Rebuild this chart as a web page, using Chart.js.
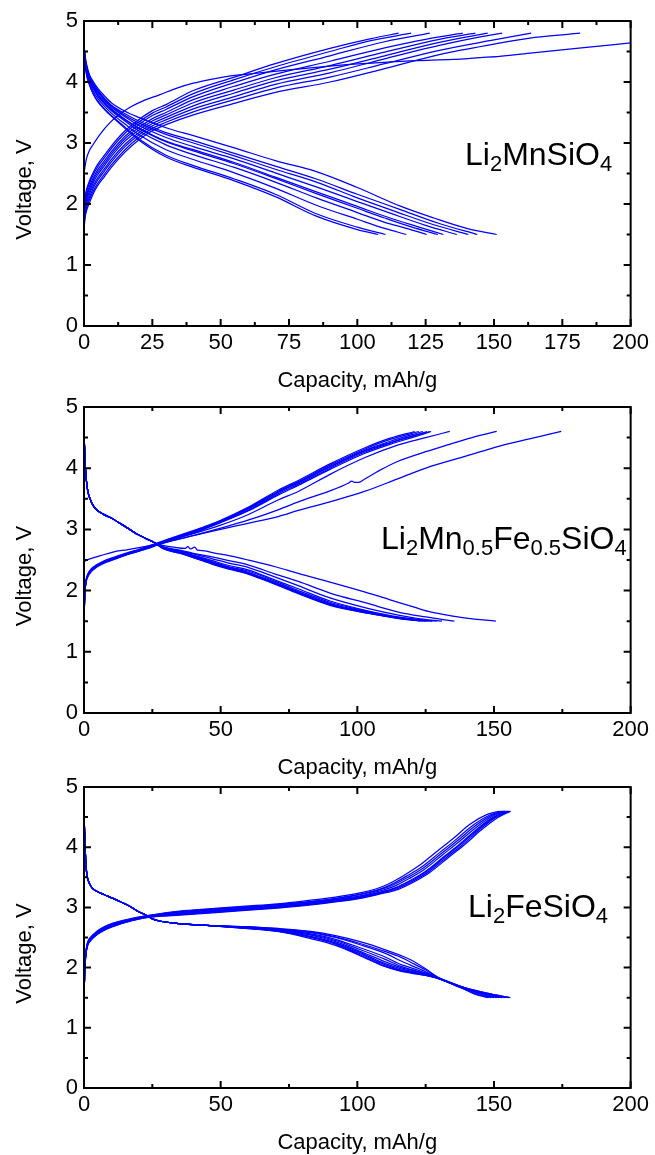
<!DOCTYPE html>
<html>
<head>
<meta charset="utf-8">
<script src="https://cdn.jsdelivr.net/npm/chart.js@4.4.1/dist/chart.umd.min.js"></script>
<style>
html,body{margin:0;padding:0;background:#fff;}
body{position:relative;width:655px;height:1155px;overflow:hidden;}
canvas{position:absolute;left:0;}
</style>
</head>
<body>
<canvas id="c1" width="655" height="400" style="top:0px"></canvas>
<canvas id="c2" width="655" height="400" style="top:385px"></canvas>
<canvas id="c3" width="655" height="385" style="top:770px"></canvas>
<script>
// ---------- tick labels / titles ----------
const xTicksMn = [0, 25, 50, 75, 100, 125, 150, 175, 200];
const xTicksWide = [0, 50, 100, 150, 200];
const yTicksV = [0, 1, 2, 3, 4, 5];
const xTitle = 'Capacity, mAh/g';
const yTitle = 'Voltage, V';
const labelMn = [['Li', 0], ['2', 1], ['MnSiO', 0], ['4', 1]];
const labelMnFe = [['Li', 0], ['2', 1], ['Mn', 0], ['0.5', 1], ['Fe', 0], ['0.5', 1], ['SiO', 0], ['4', 1]];
const labelFe = [['Li', 0], ['2', 1], ['FeSiO', 0], ['4', 1]];

// ---------- Panel 1: Li2MnSiO4 charge curves ----------
const mnCharge1 = [[0,2.5],[0.5,2.65],[1,2.76],[2,2.88],[3.4,2.98],[6,3.15],[9.4,3.33],[13,3.47],[17,3.59],[22,3.7],[27.6,3.79],[34,3.9],[40,3.98],[46,4.04],[52,4.09],[60,4.13],[75,4.2],[92,4.27],[105,4.31],[112,4.33],[122,4.35],[135,4.37],[145,4.4],[152,4.42],[165,4.48],[182,4.56],[200,4.64]];
const mnCharge2 = [[0,1.6],[0.5,1.8],[1,1.9],[2,2.02],[3.5,2.18],[5,2.3],[7.5,2.45],[10,2.6],[15,2.85],[20,3.05],[25,3.2],[30,3.3],[40,3.46],[55,3.65],[70,3.83],[90,4.0],[110,4.22],[130,4.45],[150,4.62],[165,4.73],[181.5,4.8]];
const mnCharge3 = [[0,1.65],[0.5,1.84],[1,1.94],[2,2.07],[3.5,2.22],[5,2.34],[7.5,2.49],[10,2.64],[15,2.89],[20,3.09],[25,3.24],[30,3.34],[40,3.51],[55,3.71],[70,3.9],[90,4.08],[110,4.3],[130,4.52],[150,4.69],[163.6,4.8]];
const mnCharge4 = [[0,1.7],[0.5,1.89],[1,1.99],[2,2.11],[3.5,2.27],[5,2.39],[7.5,2.54],[10,2.69],[15,2.94],[20,3.13],[25,3.28],[30,3.38],[40,3.56],[55,3.76],[70,3.96],[90,4.15],[110,4.38],[130,4.6],[145,4.74],[153,4.8]];
const mnCharge5 = [[0,1.75],[0.5,1.93],[1,2.03],[2,2.16],[3.5,2.31],[5,2.43],[7.5,2.58],[10,2.73],[15,2.98],[20,3.17],[25,3.32],[30,3.42],[40,3.61],[55,3.82],[70,4.02],[90,4.21],[110,4.43],[130,4.65],[147.7,4.8]];
const mnCharge6 = [[0,1.8],[0.5,1.98],[1,2.08],[2,2.2],[3.5,2.36],[5,2.48],[7.5,2.63],[10,2.78],[15,3.03],[20,3.21],[25,3.36],[30,3.46],[40,3.66],[55,3.87],[70,4.07],[90,4.27],[110,4.49],[130,4.7],[143.2,4.8]];
const mnCharge7 = [[0,1.85],[0.5,2.02],[1,2.12],[2,2.25],[3.5,2.4],[5,2.52],[7.5,2.67],[10,2.82],[15,3.07],[20,3.25],[25,3.4],[30,3.5],[40,3.71],[55,3.93],[70,4.13],[90,4.34],[110,4.56],[125,4.7],[138.6,4.8]];
const mnCharge8 = [[0,1.9],[0.5,2.06],[1,2.16],[2,2.29],[3.5,2.44],[5,2.56],[7.5,2.71],[10,2.86],[15,3.11],[20,3.3],[25,3.45],[30,3.55],[40,3.76],[55,3.99],[70,4.2],[90,4.43],[110,4.66],[126.5,4.8]];
const mnCharge9 = [[0,1.95],[0.5,2.11],[1,2.21],[2,2.34],[3.5,2.49],[5,2.61],[7.5,2.76],[10,2.91],[15,3.16],[20,3.34],[25,3.49],[30,3.59],[40,3.81],[55,4.04],[70,4.25],[90,4.5],[105,4.68],[119.7,4.8]];
const mnCharge10 = [[0,2.0],[0.5,2.15],[1,2.25],[2,2.38],[3.5,2.53],[5,2.65],[7.5,2.8],[10,2.95],[15,3.2],[20,3.38],[25,3.53],[30,3.63],[40,3.86],[55,4.08],[70,4.3],[90,4.55],[105,4.71],[115.1,4.8]];

// ---------- Panel 1: Li2MnSiO4 discharge curves ----------
const mnDis1 = [[0,4.6],[0.5,4.4],[1,4.28],[2,4.12],[3.5,4.0],[5,3.9],[7.5,3.77],[10,3.66],[15,3.52],[20,3.42],[30,3.25],[40,3.12],[55,2.92],[70,2.71],[85,2.53],[100,2.27],[116,1.96],[128,1.77],[140,1.6],[151,1.5]];
const mnDis2 = [[0,4.58],[0.5,4.38],[1,4.25],[2,4.09],[3.5,3.97],[5,3.87],[7.5,3.73],[10,3.62],[15,3.48],[20,3.36],[30,3.17],[40,3.04],[55,2.83],[70,2.62],[85,2.41],[100,2.16],[115,1.92],[130,1.68],[143.9,1.5]];
const mnDis3 = [[0,4.58],[0.5,4.36],[1,4.24],[2,4.08],[3.5,3.95],[5,3.85],[7.5,3.72],[10,3.61],[15,3.45],[20,3.33],[30,3.14],[40,3.0],[55,2.79],[70,2.57],[85,2.36],[100,2.1],[115,1.86],[128,1.66],[140.6,1.5]];
const mnDis4 = [[0,4.57],[0.5,4.35],[1,4.22],[2,4.06],[3.5,3.93],[5,3.83],[7.5,3.7],[10,3.59],[15,3.43],[20,3.29],[30,3.09],[40,2.94],[55,2.74],[70,2.51],[85,2.28],[100,2.04],[112,1.85],[125,1.65],[136.4,1.5]];
const mnDis5 = [[0,4.56],[0.5,4.33],[1,4.2],[2,4.04],[3.5,3.91],[5,3.8],[7.5,3.67],[10,3.56],[15,3.39],[20,3.25],[30,3.03],[40,2.89],[55,2.68],[70,2.44],[85,2.2],[100,1.96],[112,1.77],[122,1.63],[131.5,1.5]];
const mnDis6 = [[0,4.55],[0.5,4.33],[1,4.19],[2,4.04],[3.5,3.9],[5,3.79],[7.5,3.66],[10,3.55],[15,3.38],[20,3.24],[30,3.02],[40,2.87],[55,2.66],[70,2.42],[85,2.17],[100,1.93],[110,1.77],[120,1.62],[129.5,1.5]];
const mnDis7 = [[0,4.54],[0.5,4.31],[1,4.17],[2,4.02],[3.5,3.88],[5,3.77],[7.5,3.64],[10,3.53],[15,3.36],[20,3.2],[30,2.97],[40,2.81],[55,2.6],[70,2.36],[85,2.1],[100,1.86],[110,1.7],[118,1.6],[125.4,1.5]];
const mnDis8 = [[0,4.52],[0.5,4.29],[1,4.14],[2,3.99],[3.5,3.84],[5,3.73],[7.5,3.6],[10,3.49],[15,3.31],[20,3.14],[30,2.89],[40,2.73],[55,2.51],[70,2.26],[85,1.98],[100,1.75],[110,1.6],[117.9,1.5]];
const mnDis9 = [[0,4.51],[0.5,4.26],[1,4.11],[2,3.96],[3.5,3.8],[5,3.69],[7.5,3.56],[10,3.45],[15,3.26],[20,3.07],[30,2.8],[40,2.63],[55,2.41],[70,2.16],[85,1.84],[100,1.62],[110.3,1.5]];
const mnDis10 = [[0,4.5],[0.5,4.25],[1,4.1],[2,3.95],[3.5,3.79],[5,3.68],[7.5,3.55],[10,3.44],[15,3.24],[20,3.05],[30,2.77],[40,2.6],[55,2.38],[70,2.12],[85,1.8],[100,1.58],[107.6,1.5]];

// ---------- Panel 2: Li2Mn0.5Fe0.5SiO4 charge curves ----------
const mfCharge1 = [[0,2.47],[1,2.5],[3,2.53],[6,2.57],[10.6,2.63],[16,2.67],[22,2.72],[28.8,2.78],[40,2.9],[50,3.0],[60,3.1],[71,3.21],[78.4,3.31],[90,3.45],[102.6,3.62],[115,3.83],[126.8,4.03],[140,4.2],[151,4.35],[163,4.48],[174.6,4.6]];
const mfCharge2 = [[0,1.6],[0.3,1.95],[0.7,2.12],[1.5,2.23],[2.5,2.3],[4.6,2.38],[7,2.44],[10.6,2.5],[16,2.59],[22.7,2.68],[28.8,2.77],[40,2.9],[50,3.02],[60,3.15],[71,3.32],[78.4,3.45],[90,3.63],[96.5,3.75],[98,3.79],[99,3.77],[100.5,3.77],[102.6,3.82],[108,3.96],[114.7,4.11],[125,4.27],[132.9,4.38],[142,4.5],[151,4.6]];
const mfCharge3 = [[0,1.55],[0.3,1.95],[0.7,2.14],[1.5,2.25],[2.5,2.32],[4.6,2.4],[7,2.46],[10.6,2.52],[16,2.6],[22.7,2.69],[28.8,2.79],[40,2.93],[50,3.07],[60,3.24],[71,3.48],[78.4,3.62],[90,3.9],[102.6,4.17],[115,4.38],[125,4.5],[133.8,4.6]];
const mfCharge4 = [[0,1.5],[0.3,1.96],[0.7,2.16],[1.5,2.28],[2.5,2.35],[4.6,2.42],[7,2.48],[10.6,2.54],[16,2.62],[22.7,2.71],[28.8,2.81],[40,2.98],[50,3.15],[60,3.36],[71,3.64],[78.4,3.8],[90,4.07],[102.6,4.33],[112,4.49],[121,4.6]];
const mfCharge5 = [[0,1.5],[0.3,1.95],[0.7,2.15],[1.5,2.27],[2.5,2.34],[4.6,2.41],[7,2.47],[10.6,2.53],[16,2.61],[22.7,2.7],[28.8,2.8],[40,2.97],[50,3.14],[60,3.35],[71,3.62],[78.4,3.78],[90,4.05],[102.6,4.31],[112,4.47],[122.5,4.6]];
const mfCharge6 = [[0,1.5],[0.3,1.95],[0.7,2.15],[1.5,2.27],[2.5,2.34],[4.6,2.41],[7,2.47],[10.6,2.53],[16,2.61],[22.7,2.7],[28.8,2.8],[40,2.96],[50,3.13],[60,3.34],[71,3.61],[78.4,3.77],[90,4.03],[102.6,4.29],[112,4.44],[124,4.6]];
const mfCharge7 = [[0,1.5],[0.3,1.94],[0.7,2.14],[1.5,2.26],[2.5,2.33],[4.6,2.4],[7,2.46],[10.6,2.52],[16,2.6],[22.7,2.69],[28.8,2.79],[40,2.96],[50,3.13],[60,3.33],[71,3.6],[78.4,3.76],[90,4.02],[102.6,4.28],[112,4.42],[125.5,4.6]];
const mfCharge8 = [[0,1.5],[0.3,1.94],[0.7,2.14],[1.5,2.26],[2.5,2.33],[4.6,2.4],[7,2.46],[10.6,2.52],[16,2.6],[22.7,2.69],[28.8,2.79],[40,2.95],[50,3.12],[60,3.31],[71,3.58],[78.4,3.74],[90,4.0],[102.6,4.26],[112,4.41],[126.5,4.6]];
const mfCharge9 = [[0,1.5],[0.3,1.93],[0.7,2.13],[1.5,2.25],[2.5,2.32],[4.6,2.39],[7,2.45],[10.6,2.51],[16,2.59],[22.7,2.68],[28.8,2.78],[40,2.94],[50,3.11],[60,3.3],[71,3.56],[78.4,3.72],[90,3.98],[102.6,4.24],[112,4.39],[120,4.5],[127,4.6]];

// ---------- Panel 2: discharge curves ----------
const mfDisStart = [[0,4.55],[0.3,4.25],[0.6,3.95],[1,3.75],[1.5,3.6],[2.2,3.5],[3.2,3.4],[4.6,3.32],[7,3.25],[10.6,3.17],[13.5,3.09],[16.7,3.0],[19.5,2.92],[22.7,2.85],[25.5,2.79]];
const mfDis1 = [[28.8,2.74],[33,2.71],[37,2.69],[38,2.72],[39,2.68],[40.5,2.71],[41.5,2.66],[44,2.65],[47,2.62],[53,2.57],[60,2.5],[70,2.39],[78.4,2.28],[90,2.14],[102.6,1.98],[112,1.85],[120.8,1.73],[126,1.66],[132.9,1.6],[140,1.55],[150.7,1.5]];
const mfDis2 = [[28.8,2.72],[35,2.66],[40,2.61],[47,2.55],[53,2.49],[60,2.42],[70,2.27],[78.4,2.15],[90,1.96],[103.8,1.79],[115,1.65],[125,1.57],[135.5,1.5]];
const mfDis3 = [[28.8,2.71],[35,2.65],[40,2.6],[47,2.52],[53,2.45],[60,2.38],[70,2.22],[78.4,2.08],[90,1.88],[103.8,1.71],[115,1.6],[123,1.54],[131,1.5]];
const mfDis4 = [[28.8,2.71],[35,2.64],[40,2.58],[47,2.49],[53,2.41],[60,2.34],[70,2.17],[78.4,2.03],[90,1.83],[103.8,1.67],[115,1.57],[129,1.5]];
const mfDis5 = [[28.8,2.7],[35,2.63],[40,2.57],[47,2.47],[53,2.39],[60,2.32],[70,2.15],[78.4,2.0],[90,1.81],[103.8,1.66],[115,1.56],[127.5,1.5]];
const mfDis6 = [[28.8,2.7],[35,2.62],[40,2.56],[47,2.46],[53,2.38],[60,2.3],[70,2.13],[78.4,1.98],[90,1.79],[103.8,1.65],[115,1.56],[126,1.5]];
const mfDis7 = [[28.8,2.7],[35,2.62],[40,2.55],[47,2.45],[53,2.37],[60,2.29],[70,2.12],[78.4,1.97],[90,1.78],[103.8,1.64],[115,1.55],[125,1.5]];
const mfDis8 = [[28.8,2.69],[35,2.61],[40,2.54],[47,2.44],[53,2.36],[60,2.28],[70,2.11],[78.4,1.96],[90,1.77],[103.8,1.63],[115,1.55],[124,1.5]];
const mfDis9 = [[28.8,2.69],[35,2.61],[40,2.54],[47,2.43],[53,2.35],[60,2.27],[70,2.1],[78.4,1.95],[90,1.76],[103.8,1.63],[114,1.55],[123,1.5]];

// ---------- Panel 3: Li2FeSiO4 charge curves ----------
const feCharge1 = [[0,1.5],[0.3,1.96],[0.7,2.21],[1.3,2.36],[2.5,2.45],[4.6,2.54],[7,2.61],[10.6,2.68],[16.7,2.77],[22.7,2.83],[35,2.87],[47,2.91],[59,2.95],[71,2.99],[83,3.04],[92,3.09],[101,3.15],[108,3.22],[115,3.3],[121,3.43],[126.5,3.58],[133.1,3.82],[139.2,4.04],[145.2,4.28],[151.3,4.49],[156.1,4.6]];
const feCharge2 = [[0,1.5],[0.3,1.97],[0.7,2.22],[1.3,2.37],[2.5,2.46],[4.6,2.55],[7,2.62],[10.6,2.69],[16.7,2.77],[22.7,2.83],[35,2.88],[47,2.92],[59,2.96],[71,3.0],[83,3.05],[92,3.1],[101,3.16],[108,3.23],[114.5,3.31],[120.5,3.44],[126,3.59],[132.6,3.83],[138.7,4.05],[144.7,4.29],[150.8,4.5],[155.6,4.6]];
const feCharge3 = [[0,1.5],[0.3,1.98],[0.7,2.22],[1.3,2.37],[2.5,2.47],[4.6,2.55],[7,2.62],[10.6,2.7],[16.7,2.78],[22.7,2.84],[35,2.89],[47,2.93],[59,2.97],[71,3.01],[83,3.06],[92,3.11],[101,3.17],[108,3.24],[114,3.32],[120,3.45],[125.5,3.6],[132.1,3.84],[138.2,4.06],[144.2,4.3],[150.3,4.5],[155.1,4.6]];
const feCharge4 = [[0,1.5],[0.3,1.98],[0.7,2.23],[1.3,2.38],[2.5,2.47],[4.6,2.56],[7,2.63],[10.6,2.7],[16.7,2.78],[22.7,2.84],[35,2.9],[47,2.94],[59,2.98],[71,3.02],[83,3.07],[92,3.12],[101,3.18],[108,3.25],[113.5,3.32],[119.5,3.45],[125,3.6],[131.6,3.84],[137.7,4.06],[143.7,4.3],[149.8,4.5],[154.6,4.6]];
const feCharge5 = [[0,1.5],[0.3,1.99],[0.7,2.24],[1.3,2.39],[2.5,2.48],[4.6,2.57],[7,2.64],[10.6,2.71],[16.7,2.79],[22.7,2.85],[35,2.91],[47,2.95],[59,2.99],[71,3.03],[83,3.08],[92,3.13],[101,3.19],[108,3.27],[113,3.34],[119,3.48],[124.5,3.63],[131.1,3.87],[137.2,4.09],[143.2,4.32],[149.3,4.51],[154.1,4.6]];
const feCharge6 = [[0,1.5],[0.3,2.0],[0.7,2.25],[1.3,2.4],[2.5,2.49],[4.6,2.58],[7,2.65],[10.6,2.72],[16.7,2.79],[22.7,2.85],[35,2.92],[47,2.96],[59,3.0],[71,3.04],[83,3.09],[92,3.14],[101,3.21],[108,3.29],[112.5,3.36],[118.5,3.5],[124,3.65],[130.6,3.89],[136.7,4.11],[142.7,4.34],[148.8,4.52],[153.6,4.6]];
const feCharge7 = [[0,1.5],[0.3,2.0],[0.7,2.26],[1.3,2.41],[2.5,2.5],[4.6,2.59],[7,2.66],[10.6,2.73],[16.7,2.8],[22.7,2.86],[35,2.93],[47,2.97],[59,3.01],[71,3.05],[83,3.1],[92,3.15],[101,3.22],[108,3.3],[112,3.37],[118,3.52],[123.5,3.67],[130.1,3.91],[136.2,4.13],[142.2,4.36],[148.3,4.53],[153.1,4.6]];
const feCharge8 = [[0,1.5],[0.3,2.01],[0.7,2.27],[1.3,2.42],[2.5,2.51],[4.6,2.6],[7,2.67],[10.6,2.74],[16.7,2.81],[22.7,2.86],[35,2.94],[47,2.98],[59,3.02],[71,3.06],[83,3.12],[92,3.17],[101,3.24],[107,3.31],[111,3.38],[117,3.53],[122.5,3.69],[129.1,3.93],[135.2,4.15],[141.2,4.38],[147.3,4.54],[152.1,4.6]];

// ---------- Panel 3: discharge curves ----------
const feDisStart = [[0,4.55],[0.3,4.15],[0.6,3.8],[1,3.56],[1.6,3.44],[2.4,3.36],[3.5,3.3],[5,3.26],[7.5,3.21],[10.6,3.15],[13.5,3.09],[16.7,3.02],[19.5,2.94],[22.7,2.87],[25,2.81],[28,2.77],[35,2.73],[45,2.7]];
const feDis1 = [[59,2.68],[71,2.65],[83,2.6],[92,2.53],[101,2.43],[110,2.3],[116,2.2],[119.5,2.13],[125,1.98],[129.5,1.84],[133,1.77],[137.7,1.69],[145,1.6],[150,1.55],[156,1.5]];
const feDis2 = [[59,2.68],[71,2.64],[83,2.59],[92,2.51],[101,2.4],[110,2.27],[116,2.17],[119.5,2.09],[125,1.96],[129.5,1.84],[133,1.77],[137.7,1.69],[145,1.6],[150,1.55],[155.5,1.5]];
const feDis3 = [[59,2.67],[71,2.63],[83,2.58],[92,2.5],[101,2.38],[110,2.24],[116,2.11],[119.5,2.04],[125,1.93],[129.5,1.83],[137.7,1.69],[145,1.59],[155,1.5]];
const feDis4 = [[59,2.67],[71,2.63],[83,2.56],[92,2.47],[101,2.33],[110,2.18],[116,2.05],[119.5,2.0],[125,1.91],[129.5,1.83],[137.7,1.69],[145,1.59],[154,1.5]];
const feDis5 = [[59,2.67],[71,2.62],[83,2.55],[92,2.45],[101,2.3],[110,2.14],[116,2.02],[119.5,1.97],[125,1.9],[129.5,1.83],[137.7,1.68],[145,1.58],[153,1.5]];
const feDis6 = [[59,2.66],[71,2.62],[83,2.54],[92,2.43],[101,2.27],[110,2.1],[116,2.0],[119.5,1.96],[125,1.89],[129.5,1.82],[137.7,1.68],[145,1.58],[152,1.5]];
const feDis7 = [[59,2.66],[71,2.61],[83,2.52],[92,2.41],[101,2.25],[110,2.07],[116,1.98],[119.5,1.94],[125,1.88],[129.5,1.82],[137.7,1.68],[145,1.57],[151,1.5]];
const feDis8 = [[59,2.66],[71,2.61],[83,2.51],[92,2.4],[101,2.23],[110,2.05],[116,1.96],[119.5,1.93],[125,1.88],[129.5,1.82],[137.7,1.67],[144,1.57],[150,1.5]];
const feDis9 = [[59,2.65],[71,2.6],[83,2.5],[92,2.39],[101,2.21],[110,2.03],[116,1.95],[119.5,1.92],[125,1.87],[129.5,1.82],[137.7,1.67],[143,1.57],[149,1.5]];
const feDis10 = [[59,2.65],[71,2.6],[83,2.48],[92,2.37],[101,2.2],[110,2.02],[115,1.95],[119.5,1.91],[125,1.87],[129.5,1.82],[137.7,1.67],[143,1.56],[148,1.5]];

// ---------- rendering ----------
const FONT = '"Liberation Sans", Arial, Helvetica, sans-serif';
Chart.defaults.font.family = FONT;
Chart.defaults.color = '#000';

const framePlugin = {
  id: 'frame',
  afterDatasetsDraw(chart, args, opts) {
    const ctx = chart.ctx, a = chart.chartArea;
    const sx = chart.scales.x, sy = chart.scales.y;
    ctx.save();
    ctx.strokeStyle = '#000';
    ctx.lineWidth = 2;
    ctx.beginPath();
    const xv = sx.ticks.map(t => t.value);
    const yv = sy.ticks.map(t => t.value);
    xv.forEach((v, i) => {
      const p = sx.getPixelForValue(v);
      ctx.moveTo(p, a.bottom); ctx.lineTo(p, a.bottom - 7);
      ctx.moveTo(p, a.top); ctx.lineTo(p, a.top + 7);
      if (i < xv.length - 1) {
        const m = sx.getPixelForValue((v + xv[i + 1]) / 2);
        ctx.moveTo(m, a.bottom); ctx.lineTo(m, a.bottom - 4);
        ctx.moveTo(m, a.top); ctx.lineTo(m, a.top + 4);
      }
    });
    yv.forEach((v, i) => {
      const p = sy.getPixelForValue(v);
      ctx.moveTo(a.left, p); ctx.lineTo(a.left + 7, p);
      ctx.moveTo(a.right, p); ctx.lineTo(a.right - 7, p);
      if (i < yv.length - 1) {
        const m = sy.getPixelForValue((v + yv[i + 1]) / 2);
        ctx.moveTo(a.left, m); ctx.lineTo(a.left + 4, m);
        ctx.moveTo(a.right, m); ctx.lineTo(a.right - 4, m);
      }
    });
    ctx.stroke();
    ctx.strokeRect(a.left, a.top, a.right - a.left, a.bottom - a.top);

    ctx.fillStyle = '#000';
    ctx.font = '22px ' + FONT;
    ctx.textAlign = 'center';
    ctx.textBaseline = 'middle';
    ctx.fillText(opts.xTitle, (a.left + a.right) / 2, a.bottom + 55);
    ctx.save();
    ctx.translate(25, (a.top + a.bottom) / 2 + 16);
    ctx.rotate(-Math.PI / 2);
    ctx.fillText(opts.yTitle, 0, 0);
    ctx.restore();

    ctx.textAlign = 'left';
    ctx.textBaseline = 'alphabetic';
    let cx = opts.labelX;
    opts.label.forEach(([txt, sub]) => {
      ctx.font = (sub ? '22px ' : '32px ') + FONT;
      ctx.fillText(txt, cx, sub ? opts.labelY + 6 : opts.labelY);
      cx += ctx.measureText(txt).width;
    });
    ctx.restore();
  }
};

function makeChart(id, curves, xTicks, lay, label) {
  const datasets = curves.map(c => ({
    data: c,
    showLine: true,
    borderColor: '#0000ff',
    borderWidth: 1.25,
    pointRadius: 0,
    pointHoverRadius: 0,
    fill: false,
    cubicInterpolationMode: 'monotone'
  }));
  return new Chart(document.getElementById(id), {
    type: 'scatter',
    data: { datasets },
    options: {
      responsive: false,
      animation: false,
      devicePixelRatio: 1,
      events: [],
      layout: { padding: { top: lay.top, right: 20, left: 0, bottom: 0 } },
      plugins: {
        legend: { display: false },
        tooltip: { enabled: false },
        frame: { xTitle, yTitle, label, labelX: lay.labelX, labelY: lay.labelY }
      },
      scales: {
        x: {
          type: 'linear', min: 0, max: 200,
          afterBuildTicks: s => { s.ticks = xTicks.map(v => ({ value: v })); },
          afterFit: s => { s.height = lay.xH; },
          grid: { display: false, drawTicks: false },
          border: { display: false },
          ticks: { font: { size: 22, lineHeight: 1 }, color: '#000', padding: 6, maxRotation: 0, autoSkip: false }
        },
        y: {
          type: 'linear', min: 0, max: 5,
          afterBuildTicks: s => { s.ticks = yTicksV.map(v => ({ value: v })); },
          afterFit: s => { s.width = 84; },
          grid: { display: false, drawTicks: false },
          border: { display: false },
          ticks: { font: { size: 22, lineHeight: 1 }, color: '#000', padding: 6, autoSkip: false }
        }
      }
    },
    plugins: [framePlugin]
  });
}

makeChart('c1',
  [mnCharge1, mnCharge2, mnCharge3, mnCharge4, mnCharge5, mnCharge6, mnCharge7, mnCharge8, mnCharge9, mnCharge10,
   mnDis1, mnDis2, mnDis3, mnDis4, mnDis5, mnDis6, mnDis7, mnDis8, mnDis9, mnDis10],
  xTicksMn, { top: 21, xH: 74, labelX: 465, labelY: 165 }, labelMn);

makeChart('c2',
  [mfCharge1, mfCharge2, mfCharge3, mfCharge4, mfCharge5, mfCharge6, mfCharge7, mfCharge8, mfCharge9,
   [...mfDisStart, ...mfDis1], [...mfDisStart, ...mfDis2], [...mfDisStart, ...mfDis3], [...mfDisStart, ...mfDis4],
   [...mfDisStart, ...mfDis5], [...mfDisStart, ...mfDis6], [...mfDisStart, ...mfDis7], [...mfDisStart, ...mfDis8],
   [...mfDisStart, ...mfDis9]],
  xTicksWide, { top: 22, xH: 72, labelX: 381, labelY: 164 }, labelMnFe);

makeChart('c3',
  [feCharge1, feCharge2, feCharge3, feCharge4, feCharge5, feCharge6, feCharge7, feCharge8,
   [...feDisStart, ...feDis1], [...feDisStart, ...feDis2], [...feDisStart, ...feDis3], [...feDisStart, ...feDis4],
   [...feDisStart, ...feDis5], [...feDisStart, ...feDis6], [...feDisStart, ...feDis7], [...feDisStart, ...feDis8],
   [...feDisStart, ...feDis9], [...feDisStart, ...feDis10]],
  xTicksWide, { top: 13, xH: 67, labelX: 468, labelY: 147 }, labelFe);
</script>
</body>
</html>
